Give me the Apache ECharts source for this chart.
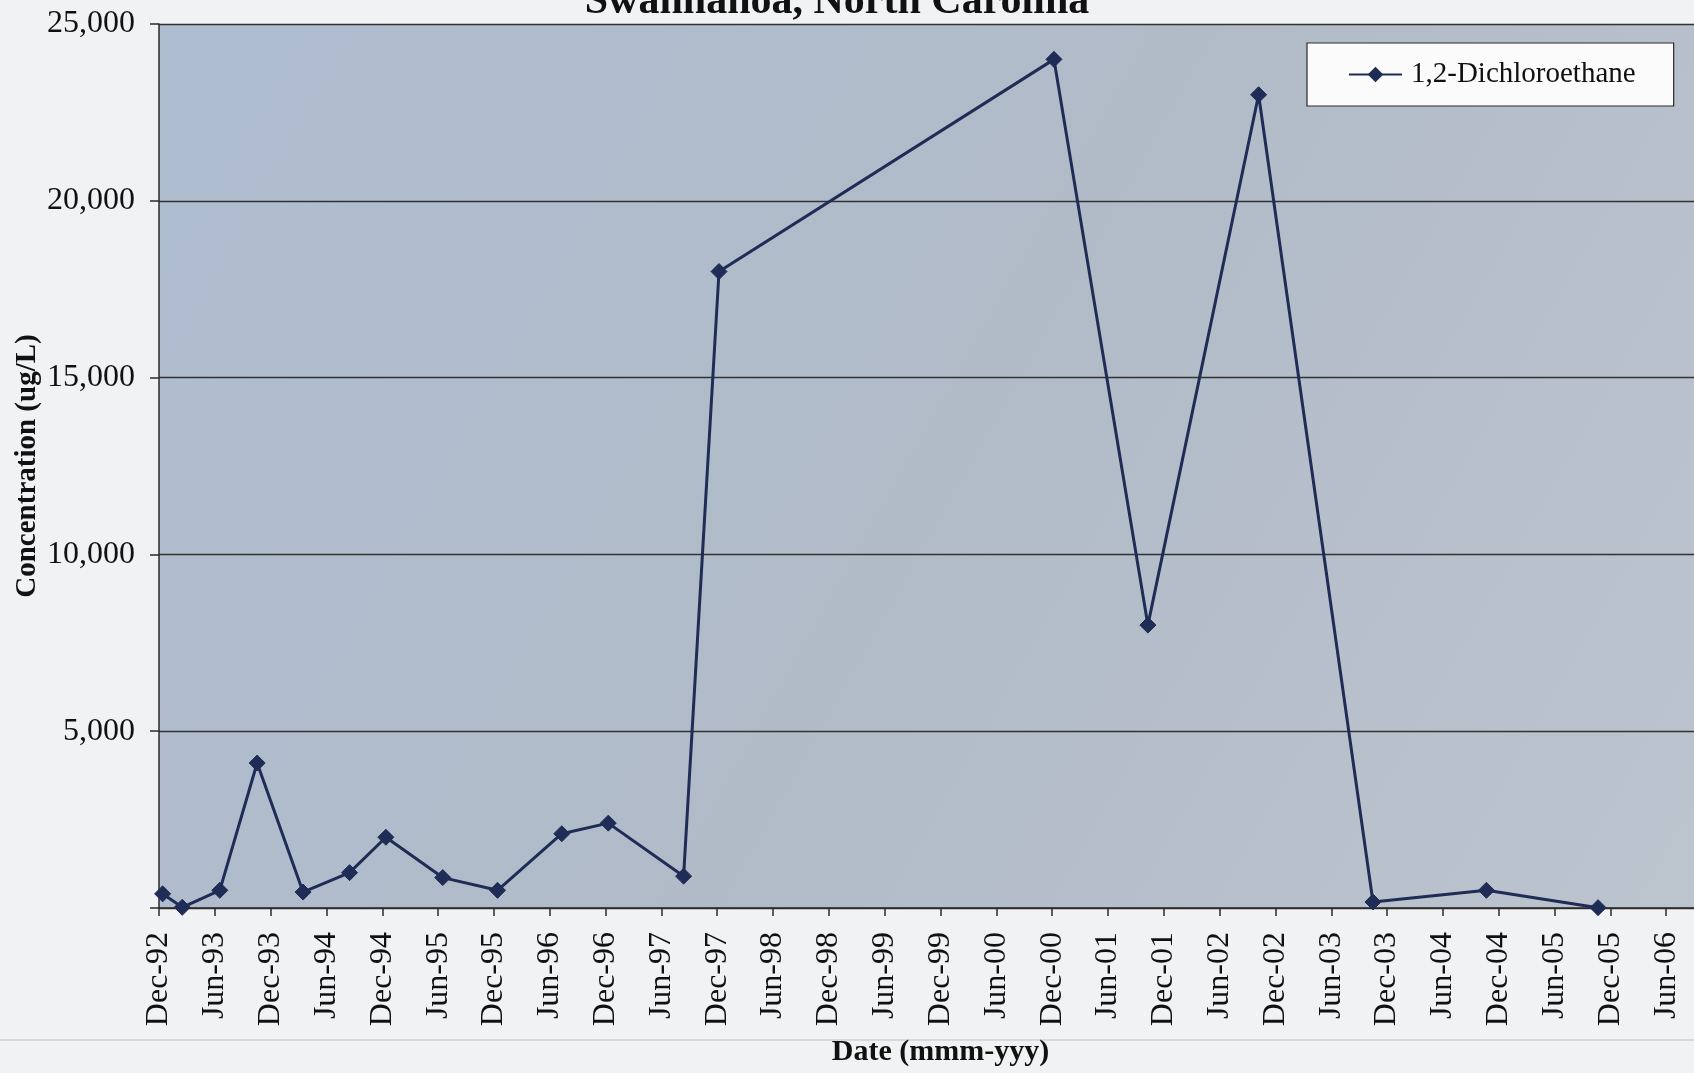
<!DOCTYPE html>
<html>
<head>
<meta charset="utf-8">
<title>1,2-Dichloroethane concentrations</title>
<script src="https://cdn.jsdelivr.net/npm/echarts@6/dist/echarts.min.js"></script>
<style>
  html, body { margin: 0; padding: 0; background: #f1f2f4; }
  #chart { width: 1694px; height: 1073px; }
</style>
</head>
<body>
<div id="chart"></div>
<script>
// Sampling dates and measured 1,2-Dichloroethane concentrations (ug/L)
const sampleDates = [
  '1992-12-13', '1993-02-15', '1993-06-17', '1993-10-18', '1994-03-16',
  '1994-08-16', '1994-12-13', '1995-06-16', '1995-12-13', '1996-07-10',
  '1996-12-10', '1997-08-13', '1997-12-07', '2000-12-07', '2001-10-10',
  '2002-10-07', '2003-10-16', '2004-10-22', '2005-10-22'
];
const dcaValues = [
  400, 20, 500, 4100, 450,
  1000, 2000, 860, 500, 2100,
  2400, 900, 18000, 24000, 8000,
  23000, 170, 500, 10
];
const monthNames = ['Jan', 'Feb', 'Mar', 'Apr', 'May', 'Jun', 'Jul', 'Aug', 'Sep', 'Oct', 'Nov', 'Dec'];
const seriesName = '1,2-Dichloroethane';
const chartTitle = 'Swannanoa, North Carolina';

// x axis runs in months counted from December 1992
const AXIS_START_YEAR = 1992, AXIS_START_MONTH = 12;
function monthIndex(s) {
  const [y, m, d] = s.split('-').map(Number);
  const daysInMonth = new Date(y, m, 0).getDate();
  return (y - AXIS_START_YEAR) * 12 + (m - AXIS_START_MONTH) + (d - 1) / daysInMonth;
}
function monthLabel(v) {
  const total = AXIS_START_YEAR * 12 + (AXIS_START_MONTH - 1) + Math.round(v);
  const y = Math.floor(total / 12), m = total % 12;
  return monthNames[m] + '-' + String(y % 100).padStart(2, '0');
}

const points = sampleDates.map((d, i) => [monthIndex(d), dcaValues[i]]);

const SERIF = '"Liberation Serif", "Times New Roman", serif';
const INK = '#111111';
const NAVY = '#1f2c55';

const chart = echarts.init(document.getElementById('chart'), null, { renderer: 'canvas' });
chart.setOption({
  backgroundColor: '#f1f2f4',
  animation: false,
  title: {
    text: chartTitle,
    left: 832,
    top: -24,
    textAlign: 'center',
    textStyle: { fontFamily: SERIF, fontWeight: 'bold', fontSize: 42, color: INK }
  },
  legend: {
    data: [seriesName],
    left: 1307,
    top: 43,
    orient: 'horizontal',
    backgroundColor: '#fbfbfc',
    borderColor: '#2a2a2a',
    borderWidth: 1.2,
    borderRadius: 0,
    padding: [17, 38, 17, 41],
    itemWidth: 53,
    itemHeight: 16,
    itemGap: 0,
    textStyle: { fontFamily: SERIF, fontSize: 29, color: INK, padding: [0, 0, 0, 4] }
  },
  grid: {
    left: 159,
    top: 24,
    bottom: 165,
    right: -28,
    outerBoundsMode: 'none',
    containLabel: false,
    show: true,
    borderWidth: 0,
    backgroundColor: {
      type: 'linear', x: 0, y: 0, x2: 1, y2: 1,
      colorStops: [
        { offset: 0, color: '#afbdd1' },
        { offset: 0.5, color: '#b1bbc8' },
        { offset: 1, color: '#bcc4ce' }
      ]
    }
  },
  xAxis: {
    type: 'value',
    min: 0,
    max: 168,
    interval: 6,
    name: 'Date (mmm-yyy)',
    nameLocation: 'middle',
    nameGap: 129,
    nameMoveOverlap: false,
    nameTextStyle: { fontFamily: SERIF, fontWeight: 'bold', fontSize: 30, color: INK },
    axisLine: { show: true, onZero: false, lineStyle: { color: '#2a2a2a', width: 1.5 } },
    axisTick: { show: true, inside: false, length: 8, lineStyle: { color: '#2a2a2a', width: 1.5 } },
    axisLabel: {
      rotate: 90,
      margin: 24,
      fontFamily: SERIF,
      fontSize: 32,
      color: INK,
      formatter: monthLabel
    },
    splitLine: { show: false }
  },
  yAxis: {
    type: 'value',
    min: 0,
    max: 25000,
    interval: 5000,
    name: 'Concentration (ug/L)',
    nameLocation: 'middle',
    nameGap: 117,
    nameMoveOverlap: false,
    nameTextStyle: { fontFamily: SERIF, fontWeight: 'bold', fontSize: 29, color: INK },
    axisLine: { show: true, lineStyle: { color: '#2a2a2a', width: 1.5 } },
    axisTick: { show: true, inside: false, length: 9, lineStyle: { color: '#2a2a2a', width: 1.5 } },
    axisLabel: {
      margin: 24,
      fontFamily: SERIF,
      fontSize: 32,
      color: INK,
      formatter: v => (v === 0 ? '' : v.toLocaleString('en-US'))
    },
    splitLine: { show: true, lineStyle: { color: '#333333', width: 1.3 } }
  },
  series: [{
    name: seriesName,
    type: 'line',
    data: points,
    symbol: 'diamond',
    symbolSize: 16,
    showAllSymbol: true,
    lineStyle: { color: NAVY, width: 3 },
    itemStyle: { color: NAVY, borderColor: NAVY, borderWidth: 1 },
    z: 5
  }],
  graphic: [{
    type: 'line',
    shape: { x1: 0, y1: 1040, x2: 1694, y2: 1040 },
    style: { stroke: '#d6dbe3', lineWidth: 2 },
    silent: true
  }]
});
</script>
</body>
</html>
